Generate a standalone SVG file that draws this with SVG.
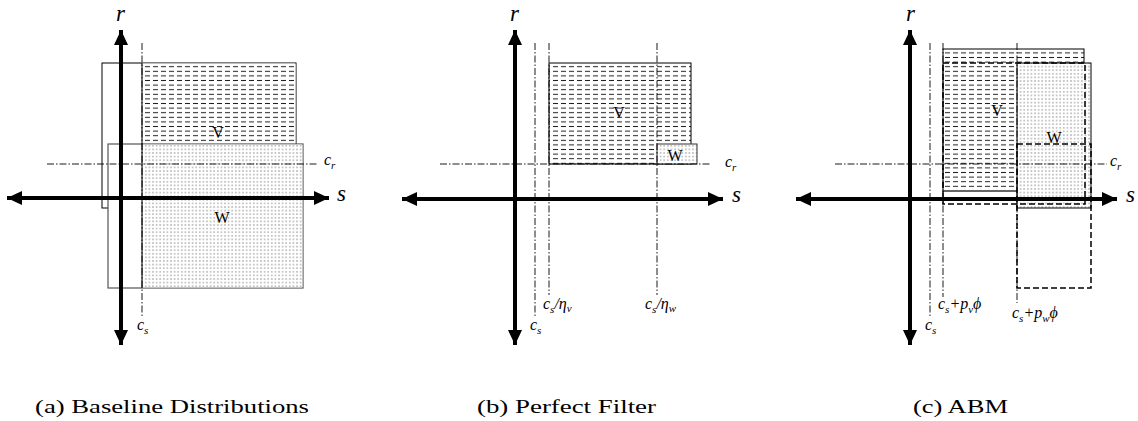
<svg xmlns="http://www.w3.org/2000/svg" width="1138" height="421" viewBox="0 0 1138 421">
<style>
.ax{stroke:#000;stroke-width:4;fill:none}
.dd{stroke:#000;stroke-width:0.9;stroke-dasharray:7 2 1.5 2;fill:none}
.lbl{font-family:"Liberation Serif","Times New Roman",serif;font-style:italic;fill:#000}
.rs{font-size:23px}
.c{font-size:16px}
.sub{font-size:11px}
.nm{font-family:"Liberation Serif",serif;font-size:16px;fill:#000;text-anchor:middle}
.cap{font-family:"Liberation Serif",serif;font-size:19px;fill:#000}
.dash{stroke:#000;stroke-width:1.5;stroke-dasharray:6 3;fill:none}
</style>
<defs>
<pattern id="hatch" width="8" height="4.6" patternUnits="userSpaceOnUse">
<rect width="8" height="4.6" fill="#fff"/>
<line x1="1" y1="2.3" x2="6" y2="2.3" stroke="#222" stroke-width="1"/>
</pattern>
<pattern id="dots" width="3.6" height="3.6" patternUnits="userSpaceOnUse">
<rect width="3.6" height="3.6" fill="#fff"/>
<rect x="1.3" y="1.3" width="1" height="1" fill="#444"/>
</pattern>
<marker id="ah" markerUnits="userSpaceOnUse" markerWidth="16" markerHeight="16" viewBox="0 0 16 16" refX="15" refY="8" orient="auto-start-reverse">
<path d="M0,1 L15,8 L0,15 Z" fill="#000"/>
</marker>
</defs>

<g id="panel-a">
<g id="a-V">
<rect x="102" y="63" width="194" height="145" fill="#fff" stroke="#000" stroke-width="1"/>
<rect x="142" y="63.5" width="153.5" height="80.5" fill="url(#hatch)"/>
<text class="nm" x="218" y="138">V</text>
</g>
<g id="a-W">
<rect x="108" y="144" width="195" height="144" fill="#fff" stroke="#555" stroke-width="1.2"/>
<rect x="142" y="144.6" width="160.4" height="142.8" fill="url(#dots)"/>
<line x1="142" y1="63" x2="142" y2="288" stroke="#000" stroke-width="1"/>
<text class="nm" x="222" y="223">W</text>
</g>
<g id="a-guides">
<line class="dd" x1="142" y1="43" x2="142" y2="318"/>
<line class="dd" x1="47" y1="164" x2="317" y2="164"/>
<text class="lbl c" x="137" y="330">c<tspan class="sub" dy="4">s</tspan></text>
<text class="lbl c" x="324" y="165">c<tspan class="sub" dy="4">r</tspan></text>
</g>
<g id="a-axes">
<line class="ax" x1="121" y1="30" x2="121" y2="345" marker-start="url(#ah)" marker-end="url(#ah)"/>
<line class="ax" x1="7" y1="198" x2="329" y2="198" marker-start="url(#ah)" marker-end="url(#ah)"/>
<text class="lbl rs" x="116" y="21">r</text>
<text class="lbl rs" x="337" y="201">s</text>
</g>
<text class="cap" x="35" y="413" textLength="274" lengthAdjust="spacingAndGlyphs">(a) Baseline Distributions</text>
</g>

<g id="panel-b">
<g id="b-V">
<rect x="549" y="63" width="142" height="101" fill="url(#hatch)" stroke="#000" stroke-width="1"/>
<text class="nm" x="619" y="118">V</text>
</g>
<g id="b-W">
<rect x="657" y="144" width="40" height="20" fill="url(#dots)" stroke="#333" stroke-width="1"/>
<text class="nm" x="675" y="161">W</text>
</g>
<g id="b-guides">
<line class="dd" x1="535" y1="43" x2="535" y2="318"/>
<line class="dd" x1="549" y1="43" x2="549" y2="295"/>
<line class="dd" x1="657" y1="43" x2="657" y2="295"/>
<line class="dd" x1="440" y1="164" x2="710" y2="164"/>
<text class="lbl c" x="530" y="330">c<tspan class="sub" dy="4">s</tspan></text>
<text class="lbl c" x="543" y="309">c<tspan class="sub" dy="4">s</tspan><tspan dy="-4">/η</tspan><tspan class="sub" dy="3">v</tspan></text>
<text class="lbl c" x="645" y="309">c<tspan class="sub" dy="4">s</tspan><tspan dy="-4">/η</tspan><tspan class="sub" dy="3">w</tspan></text>
<text class="lbl c" x="725" y="167">c<tspan class="sub" dy="4">r</tspan></text>
</g>
<g id="b-axes">
<line class="ax" x1="515" y1="30" x2="515" y2="345" marker-start="url(#ah)" marker-end="url(#ah)"/>
<line class="ax" x1="402" y1="199" x2="723" y2="199" marker-start="url(#ah)" marker-end="url(#ah)"/>
<text class="lbl rs" x="510" y="21">r</text>
<text class="lbl rs" x="732" y="202">s</text>
</g>
<text class="cap" x="477" y="413" textLength="179" lengthAdjust="spacingAndGlyphs">(b) Perfect Filter</text>
</g>

<g id="panel-c">
<g id="c-V">
<rect x="943" y="49" width="141" height="142" fill="url(#hatch)" stroke="#000" stroke-width="1"/>
<line x1="943" y1="191" x2="1017" y2="191" stroke="#666" stroke-width="2"/>
<text class="nm" x="997" y="116">V</text>
</g>
<g id="c-W">
<rect x="1017" y="63" width="74" height="145" fill="url(#dots)" stroke="#000" stroke-width="1"/>
<text class="nm" x="1054" y="143">W</text>
</g>
<g id="c-shifted">
<rect class="dash" x="943" y="63" width="142" height="141"/>
<rect class="dash" x="1017" y="144" width="74" height="144"/>
</g>
<g id="c-guides">
<line class="dd" x1="930" y1="43" x2="930" y2="318"/>
<line class="dd" x1="943" y1="43" x2="943" y2="297"/>
<line class="dd" x1="1017" y1="43" x2="1017" y2="303"/>
<line class="dd" x1="835" y1="164" x2="1107" y2="164"/>
<text class="lbl c" x="925" y="330">c<tspan class="sub" dy="4">s</tspan></text>
<text class="lbl c" x="938" y="309">c<tspan class="sub" dy="4">s</tspan><tspan dy="-4">+p</tspan><tspan class="sub" dy="4">v</tspan><tspan dy="-4">ϕ</tspan></text>
<text class="lbl c" x="1012" y="318">c<tspan class="sub" dy="4">s</tspan><tspan dy="-4">+p</tspan><tspan class="sub" dy="4">w</tspan><tspan dy="-4">ϕ</tspan></text>
<text class="lbl c" x="1110" y="166">c<tspan class="sub" dy="4">r</tspan></text>
</g>
<g id="c-axes">
<line class="ax" x1="910" y1="30" x2="910" y2="345" marker-start="url(#ah)" marker-end="url(#ah)"/>
<line class="ax" x1="796" y1="199" x2="1117" y2="199" marker-start="url(#ah)" marker-end="url(#ah)"/>
<text class="lbl rs" x="906" y="21">r</text>
<text class="lbl rs" x="1126" y="202">s</text>
</g>
<text class="cap" x="913" y="413" textLength="95" lengthAdjust="spacingAndGlyphs">(c) ABM</text>
</g>
</svg>
